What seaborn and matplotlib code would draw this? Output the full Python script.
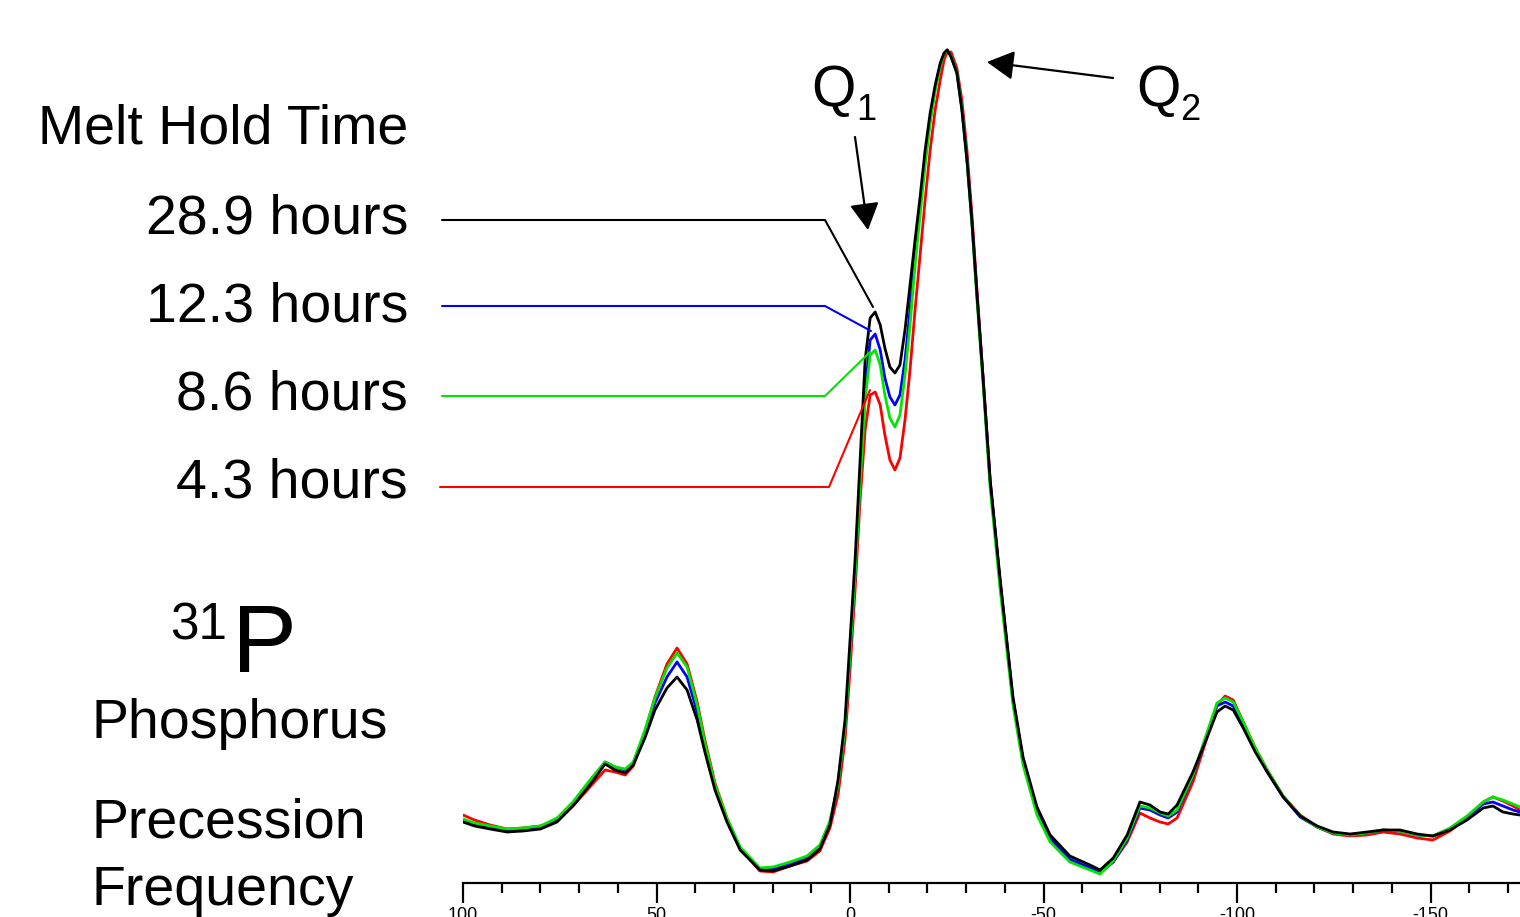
# ==============================
# 31P NMR spectra vs melt hold time
# ==============================

import pandas as pd
import numpy as np
import matplotlib.pyplot as plt
import seaborn as sns
from matplotlib.lines import Line2D
from matplotlib.ticker import MultipleLocator

# ------------------------------
# Data (chemical shift in ppm, intensity in arb. units)
# ------------------------------
ppm = [100, 97, 93, 88.6, 84.5, 80, 75.7, 71.6, 67.2, 63.3,
       60.7, 58.1, 56, 53, 50.4, 47.3, 44.7, 42.1, 39.5, 37.5,
       34.9, 31.8, 28.4, 23.3, 19.9, 15.5, 11.1, 7.8, 5.2, 3.1,
       1.3, 0, -1.3, -2.6, -3.9, -5.2, -6.5, -7.8, -9.0, -10.3,
       -11.6, -12.9, -14.2, -15.5, -16.8, -18.1, -19.4, -20.7, -22.0, -23.3,
       -24.3, -25.1, -26.1, -27.6, -28.9, -30.2, -31.5, -32.8, -34.4, -36.2,
       -38.8, -42.1, -44.7, -48.3, -51.7, -56.8, -62.0, -64.6, -68.0, -71.6,
       -74.9, -77.5, -80.1, -82.2, -84.5, -88.6, -92.2, -94.8, -96.9, -99.0,
       -101.6, -104.7, -107.8, -111.9, -116.3, -120.7, -124.8, -129.2, -133.6, -137.7,
       -142.1, -146.5, -150.6, -155.0, -159.4, -163.6, -166.1, -168.7, -171.3, -173.1]

h28_9 = [61, 57, 54, 51, 52, 54, 61, 77, 98, 119,
         113, 110, 118, 145, 173, 195, 206, 193, 163, 131,
         93, 61, 33, 13, 12, 17, 23, 34, 58, 103,
         163, 243, 323, 423, 523, 565, 571, 558, 535, 516,
         510, 518, 553, 598, 643, 686, 733, 770, 798, 820,
         830, 833, 826, 810, 773, 723, 661, 588, 503, 403,
         303, 186, 126, 76, 48, 27, 18, 13, 25, 48,
         81, 78, 71, 69, 78, 111, 145, 171, 177, 173,
         155, 131, 111, 86, 67, 57, 51, 49, 51, 53,
         53, 49, 47, 53, 63, 75, 77, 71, 69, 68]

h12_3 = [63, 59, 56, 53, 54, 56, 64, 80, 102, 121,
         116, 113, 120, 150, 180, 206, 221, 206, 171, 136,
         96, 63, 35, 14, 14, 19, 25, 36, 60, 98,
         155, 228, 308, 403, 493, 543, 549, 533, 505, 486,
         478, 488, 523, 573, 628, 676, 723, 763, 795, 818,
         829, 833, 827, 811, 775, 725, 661, 588, 503, 401,
         300, 183, 123, 73, 45, 24, 15, 10, 21, 43,
         75, 73, 68, 65, 71, 107, 148, 177, 181, 177,
         158, 133, 111, 86, 66, 56, 50, 48, 50, 53,
         52, 48, 47, 54, 65, 79, 81, 77, 73, 71]

h8_6 = [64, 60, 57, 54, 55, 57, 65, 81, 103, 121,
        116, 114, 121, 153, 185, 215, 230, 216, 178, 140,
        98, 65, 36, 15, 16, 21, 27, 38, 62, 98,
        155, 228, 308, 398, 483, 528, 533, 518, 488, 465,
        456, 468, 508, 558, 618, 668, 718, 760, 793, 817,
        829, 833, 827, 811, 775, 723, 658, 583, 498, 395,
        293, 178, 118, 68, 41, 21, 13, 9, 22, 45,
        77, 75, 70, 67, 73, 108, 150, 180, 185, 181,
        161, 135, 113, 87, 67, 56, 50, 48, 50, 53,
        52, 48, 47, 55, 67, 81, 86, 83, 79, 76]

h4_3 = [68, 63, 58, 54, 55, 57, 63, 77, 96, 113,
        111, 108, 117, 151, 186, 219, 235, 219, 181, 143,
        100, 65, 35, 12, 11, 17, 22, 32, 55, 88,
        143, 213, 293, 383, 453, 488, 491, 478, 448, 423,
        413, 425, 463, 513, 573, 628, 683, 733, 773, 803,
        823, 831, 831, 815, 783, 733, 668, 593, 505, 403,
        301, 183, 123, 73, 44, 23, 15, 11, 21, 41,
        70, 65, 61, 59, 65, 101, 145, 178, 187, 183,
        161, 135, 113, 87, 68, 56, 49, 47, 48, 51,
        49, 45, 43, 52, 65, 81, 86, 82, 77, 73]

hold_times = ["28.9 hours", "12.3 hours", "8.6 hours", "4.3 hours"]
line_colors = ["#000000", "#0000ff", "#00e600", "#ff0000"]

tick_values = [100, 50, 0, -50, -100, -150]
tick_labels = ["100", "50", "0", "-50", "-100", "-150"]

# ------------------------------
# Long table for seaborn
# ------------------------------
spectra = pd.concat([
    pd.DataFrame({"ppm": ppm, "intensity": h, "hold": name})
    for name, h in zip(hold_times, [h28_9, h12_3, h8_6, h4_3])
])

sns.set_style("white")
plt.rcParams["font.family"] = ["Liberation Sans", "DejaVu Sans"]
plt.rcParams["text.color"] = "black"
plt.rcParams["xtick.color"] = "black"
plt.rcParams["xtick.labelcolor"] = "black"

W, H = 1520, 917
fig = plt.figure(figsize=(W / 100, H / 100), dpi=100)


def fx(px):
    return px / W


def fy(py):
    return 1 - py / H


ax = fig.add_axes([fx(463), fy(883), fx(W) - fx(463), fy(0) - fy(883)])

# draw order: red, blue, green, black on top
sns.lineplot(data=spectra, x="ppm", y="intensity", hue="hold",
             hue_order=["4.3 hours", "12.3 hours", "8.6 hours", "28.9 hours"],
             palette=dict(zip(hold_times, line_colors)),
             linewidth=2.0, legend=False, sort=False, ax=ax)

ax.set_xlim(100, -173.1)
ax.set_ylim(0, 883)
for side in ["left", "right", "top"]:
    ax.spines[side].set_visible(False)
ax.spines["bottom"].set_linewidth(1.6)
ax.spines["bottom"].set_color("black")
ax.set_yticks([])
ax.set_xticks(tick_values)
ax.set_xticklabels(tick_labels)
ax.xaxis.set_minor_locator(MultipleLocator(10))
ax.tick_params(axis="x", which="major", direction="out", length=14.4, width=1.6,
               color="black", labelcolor="black", labelsize=13, pad=3, bottom=True)
ax.tick_params(axis="x", which="minor", direction="out", length=7.2, width=1.6,
               color="black", bottom=True)
ax.set_xlabel("")
ax.set_ylabel("")
ax.patch.set_alpha(0)

# ------------------------------
# Left side labels
# ------------------------------
big = 40
fig.text(fx(408), fy(144), "Melt Hold Time", ha="right", va="baseline", fontsize=big)
for name, base in zip(hold_times, [233, 322, 410, 498]):
    fig.text(fx(408), fy(base), name, ha="right", va="baseline", fontsize=big)

fig.text(fx(170), fy(640), "31", ha="left", va="baseline", fontsize=37)
fig.text(fx(232), fy(672), "P", ha="left", va="baseline", fontsize=70)
fig.text(fx(91), fy(738), "Phosphorus", ha="left", va="baseline", fontsize=big)
fig.text(fx(91), fy(838), "Precession", ha="left", va="baseline", fontsize=big)
fig.text(fx(91), fy(905), "Frequency", ha="left", va="baseline", fontsize=big)

# ------------------------------
# Leader lines from labels to the Q1 peaks
# ------------------------------
leaders = [
    [(442, 220), (825, 220), (873, 307)],
    [(442, 306), (825, 306), (871, 331)],
    [(442, 396), (825, 396), (870, 352)],
    [(440, 487), (829, 487), (870, 390)],
]
for pts, c in zip(leaders, line_colors):
    fig.add_artist(Line2D([fx(p[0]) for p in pts], [fy(p[1]) for p in pts],
                          color=c, linewidth=1.5, transform=fig.transFigure))

# ------------------------------
# Q1 / Q2 annotations
# ------------------------------
fig.text(fx(811), fy(106), "Q", ha="left", va="baseline", fontsize=41)
fig.text(fx(856), fy(120), "1", ha="left", va="baseline", fontsize=26)
fig.text(fx(1136), fy(106), "Q", ha="left", va="baseline", fontsize=41)
fig.text(fx(1180), fy(120), "2", ha="left", va="baseline", fontsize=26)

arrow = dict(arrowstyle="-|>,head_length=1.1,head_width=0.6", mutation_scale=15,
             color="black", linewidth=1.6, shrinkA=0, shrinkB=0)
ax.annotate("", xy=(fx(868), fy(230)), xytext=(fx(855), fy(137)),
            xycoords="figure fraction", textcoords="figure fraction", arrowprops=arrow)
ax.annotate("", xy=(fx(987), fy(62)), xytext=(fx(1113), fy(78)),
            xycoords="figure fraction", textcoords="figure fraction", arrowprops=arrow)

fig.savefig("out.png", dpi=100, facecolor="white")
